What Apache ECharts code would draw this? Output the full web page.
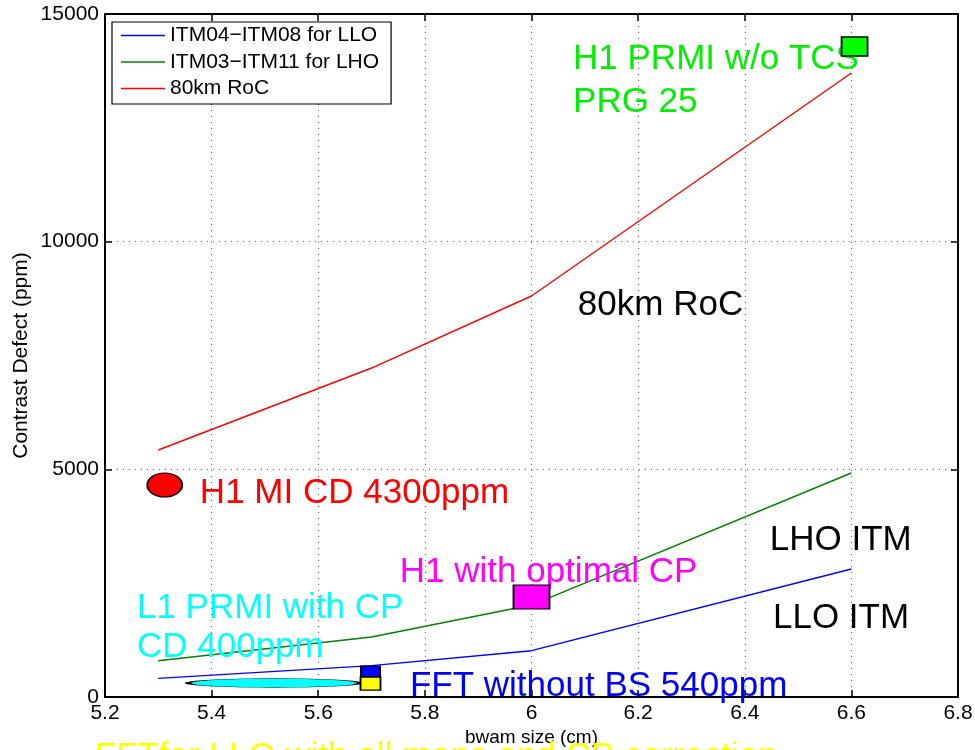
<!DOCTYPE html>
<html><head><meta charset="utf-8">
<script src="https://cdn.jsdelivr.net/npm/echarts@6/dist/echarts.min.js"></script>
<style>html,body{margin:0;padding:0;background:#fff}#c{width:975px;height:750px}</style>
</head><body><div id="c"></div><script>
// ---- data ----
const beamSizes = [5.3, 5.7, 6.0, 6.6];
const lloITM = [410, 690, 1017, 2811];
const lhoITM = [797, 1318, 2020, 4919];
const roc80km = [5425, 7225, 8807, 13704];
const seriesNames = ['ITM04\u2212ITM08 for LLO', 'ITM03\u2212ITM11 for LHO', '80km RoC'];

const markerNames = ['H1 MI', 'L1 PRMI with CP', 'FFT without BS', 'FFT for LLO all maps', 'H1 optimal CP', 'H1 PRMI w/o TCS'];
const markerX = [5.312, 5.517, 5.698, 5.698, 6.0, 6.606];
const markerY = [4656, 307, 560, 296, 2196, 14286];

const annotationTexts = ['H1 PRMI w/o TCS', 'PRG 25', '80km RoC', 'H1 MI CD 4300ppm', 'LHO ITM',
  'H1 with optimal CP', 'L1 PRMI with CP', 'CD 400ppm', 'LLO ITM', 'FFT without BS 540ppm',
  'FFTfor LLO with all maps and CP correction'];
const annotationX = [6.077, 6.077, 6.086, 5.377, 6.446, 5.752, 5.259, 5.259, 6.452, 5.771, 5.18];
const annotationY = [14000, 13060, 8600, 4470, 3440, 2740, 1950, 1090, 1730, 235, -1330];

// ---- styles ----
const lineColors = ['#0000ff', '#008000', '#ff0000'];
const markerColors = ['#ff0000', '#00ffff', '#0000ff', '#ffff00', '#ff00ff', '#00ff00'];
const ellipse = 'path://M0,1C0,0.448,0.448,0,1,0C1.552,0,2,0.448,2,1C2,1.552,1.552,2,1,2C0.448,2,0,1.552,0,1Z';
const markerSymbols = [ellipse, ellipse, 'rect', 'rect', 'rect', 'rect'];
const markerSizes = [[35, 24], [172, 9], [19, 11], [20, 13], [36, 24], [26, 19]];
const annotationColors = ['#00ee00', '#00ee00', '#000000', '#ff0000', '#000000', '#ff00ff',
  '#00ffff', '#00ffff', '#000000', '#0000ff', '#ffff00'];

const FONT = '"Liberation Sans", Arial, Helvetica, sans-serif';
const chart = echarts.init(document.getElementById('c'), null, {renderer: 'canvas'});

const lineSeries = [lloITM, lhoITM, roc80km].map((vals, i) => ({
  name: seriesNames[i], type: 'line', symbol: 'none', showSymbol: false,
  data: beamSizes.map((x, j) => [x, vals[j]]),
  lineStyle: {color: lineColors[i], width: 1.4}, itemStyle: {color: lineColors[i]},
  z: 2
}));

const axisCommon = {
  type: 'value',
  axisLine: {show: true, onZero: false, lineStyle: {color: '#000', width: 2}},
  axisTick: {show: true, inside: true, length: 7, lineStyle: {color: '#000', width: 1.5}},
};

chart.setOption({
  animation: false,
  backgroundColor: '#fff',
  textStyle: {fontFamily: FONT},
  grid: {left: 105, right: 17, top: 14, bottom: 53, containLabel: false, outerBoundsMode: 'none'},
  legend: {
    show: true, orient: 'vertical', left: 112, top: 22,
    data: seriesNames,
    icon: 'rect',
    itemWidth: 44, itemHeight: 1.5, itemGap: 5.5,
    padding: [3, 12, 5, 9],
    backgroundColor: '#fff', borderColor: '#000', borderWidth: 1.2,
    textStyle: {fontFamily: FONT, fontSize: 21, color: '#000', lineHeight: 21},
    selectedMode: false
  },
  xAxis: [
    Object.assign({}, axisCommon, {
      min: 5.2, max: 6.8, interval: 0.2, position: 'bottom',
      name: 'bwam size (cm)', nameLocation: 'middle', nameGap: 31, nameMoveOverlap: false,
      nameTextStyle: {fontFamily: FONT, fontSize: 19, color: '#000'},
      axisLabel: {show: true, margin: 6, fontFamily: FONT, fontSize: 21, color: '#000',
        formatter: v => String(Math.round(v * 10) / 10)},
      splitLine: {show: true, lineStyle: {color: '#666', width: 1, type: [1, 5]}}
    }),
    Object.assign({}, axisCommon, {
      min: 5.2, max: 6.8, interval: 0.2, position: 'top',
      axisLabel: {show: false}, splitLine: {show: false}
    })
  ],
  yAxis: [
    Object.assign({}, axisCommon, {
      min: 0, max: 15000, interval: 5000, position: 'left',
      name: 'Contrast Defect (ppm)', nameLocation: 'middle', nameGap: 73, nameMoveOverlap: false,
      nameTextStyle: {fontFamily: FONT, fontSize: 21, color: '#000'},
      axisLabel: {show: true, margin: 6, fontFamily: FONT, fontSize: 21, color: '#000',
        formatter: v => String(v)},
      splitLine: {show: true, lineStyle: {color: '#666', width: 1, type: [1, 5]}}
    }),
    Object.assign({}, axisCommon, {
      min: 0, max: 15000, interval: 5000, position: 'right',
      axisLabel: {show: false}, splitLine: {show: false}
    })
  ],
  series: lineSeries.concat([
    {
      name: 'annotations', type: 'scatter', clip: false, z: 3,
      symbolSize: 1, itemStyle: {color: 'transparent'},
      silent: true,
      data: annotationTexts.map((t, i) => ({
        value: [annotationX[i], annotationY[i]], name: t,
        label: {
          show: true, position: 'right', distance: 0, formatter: t,
          color: annotationColors[i], fontFamily: FONT, fontSize: 35,
          verticalAlign: 'middle', align: 'left',
          textBorderWidth: 0, textShadowBlur: 0, opacity: 1
        }
      }))
    },
    {
      name: 'markers', type: 'scatter', clip: false, z: 4, silent: true,
      data: markerNames.map((n, i) => ({
        name: n, value: [markerX[i], markerY[i]],
        symbol: markerSymbols[i], symbolSize: markerSizes[i], symbolKeepAspect: false,
        itemStyle: {color: markerColors[i], borderColor: '#000', borderWidth: 1.5, opacity: 1}
      }))
    }
  ])
});
</script></body></html>
